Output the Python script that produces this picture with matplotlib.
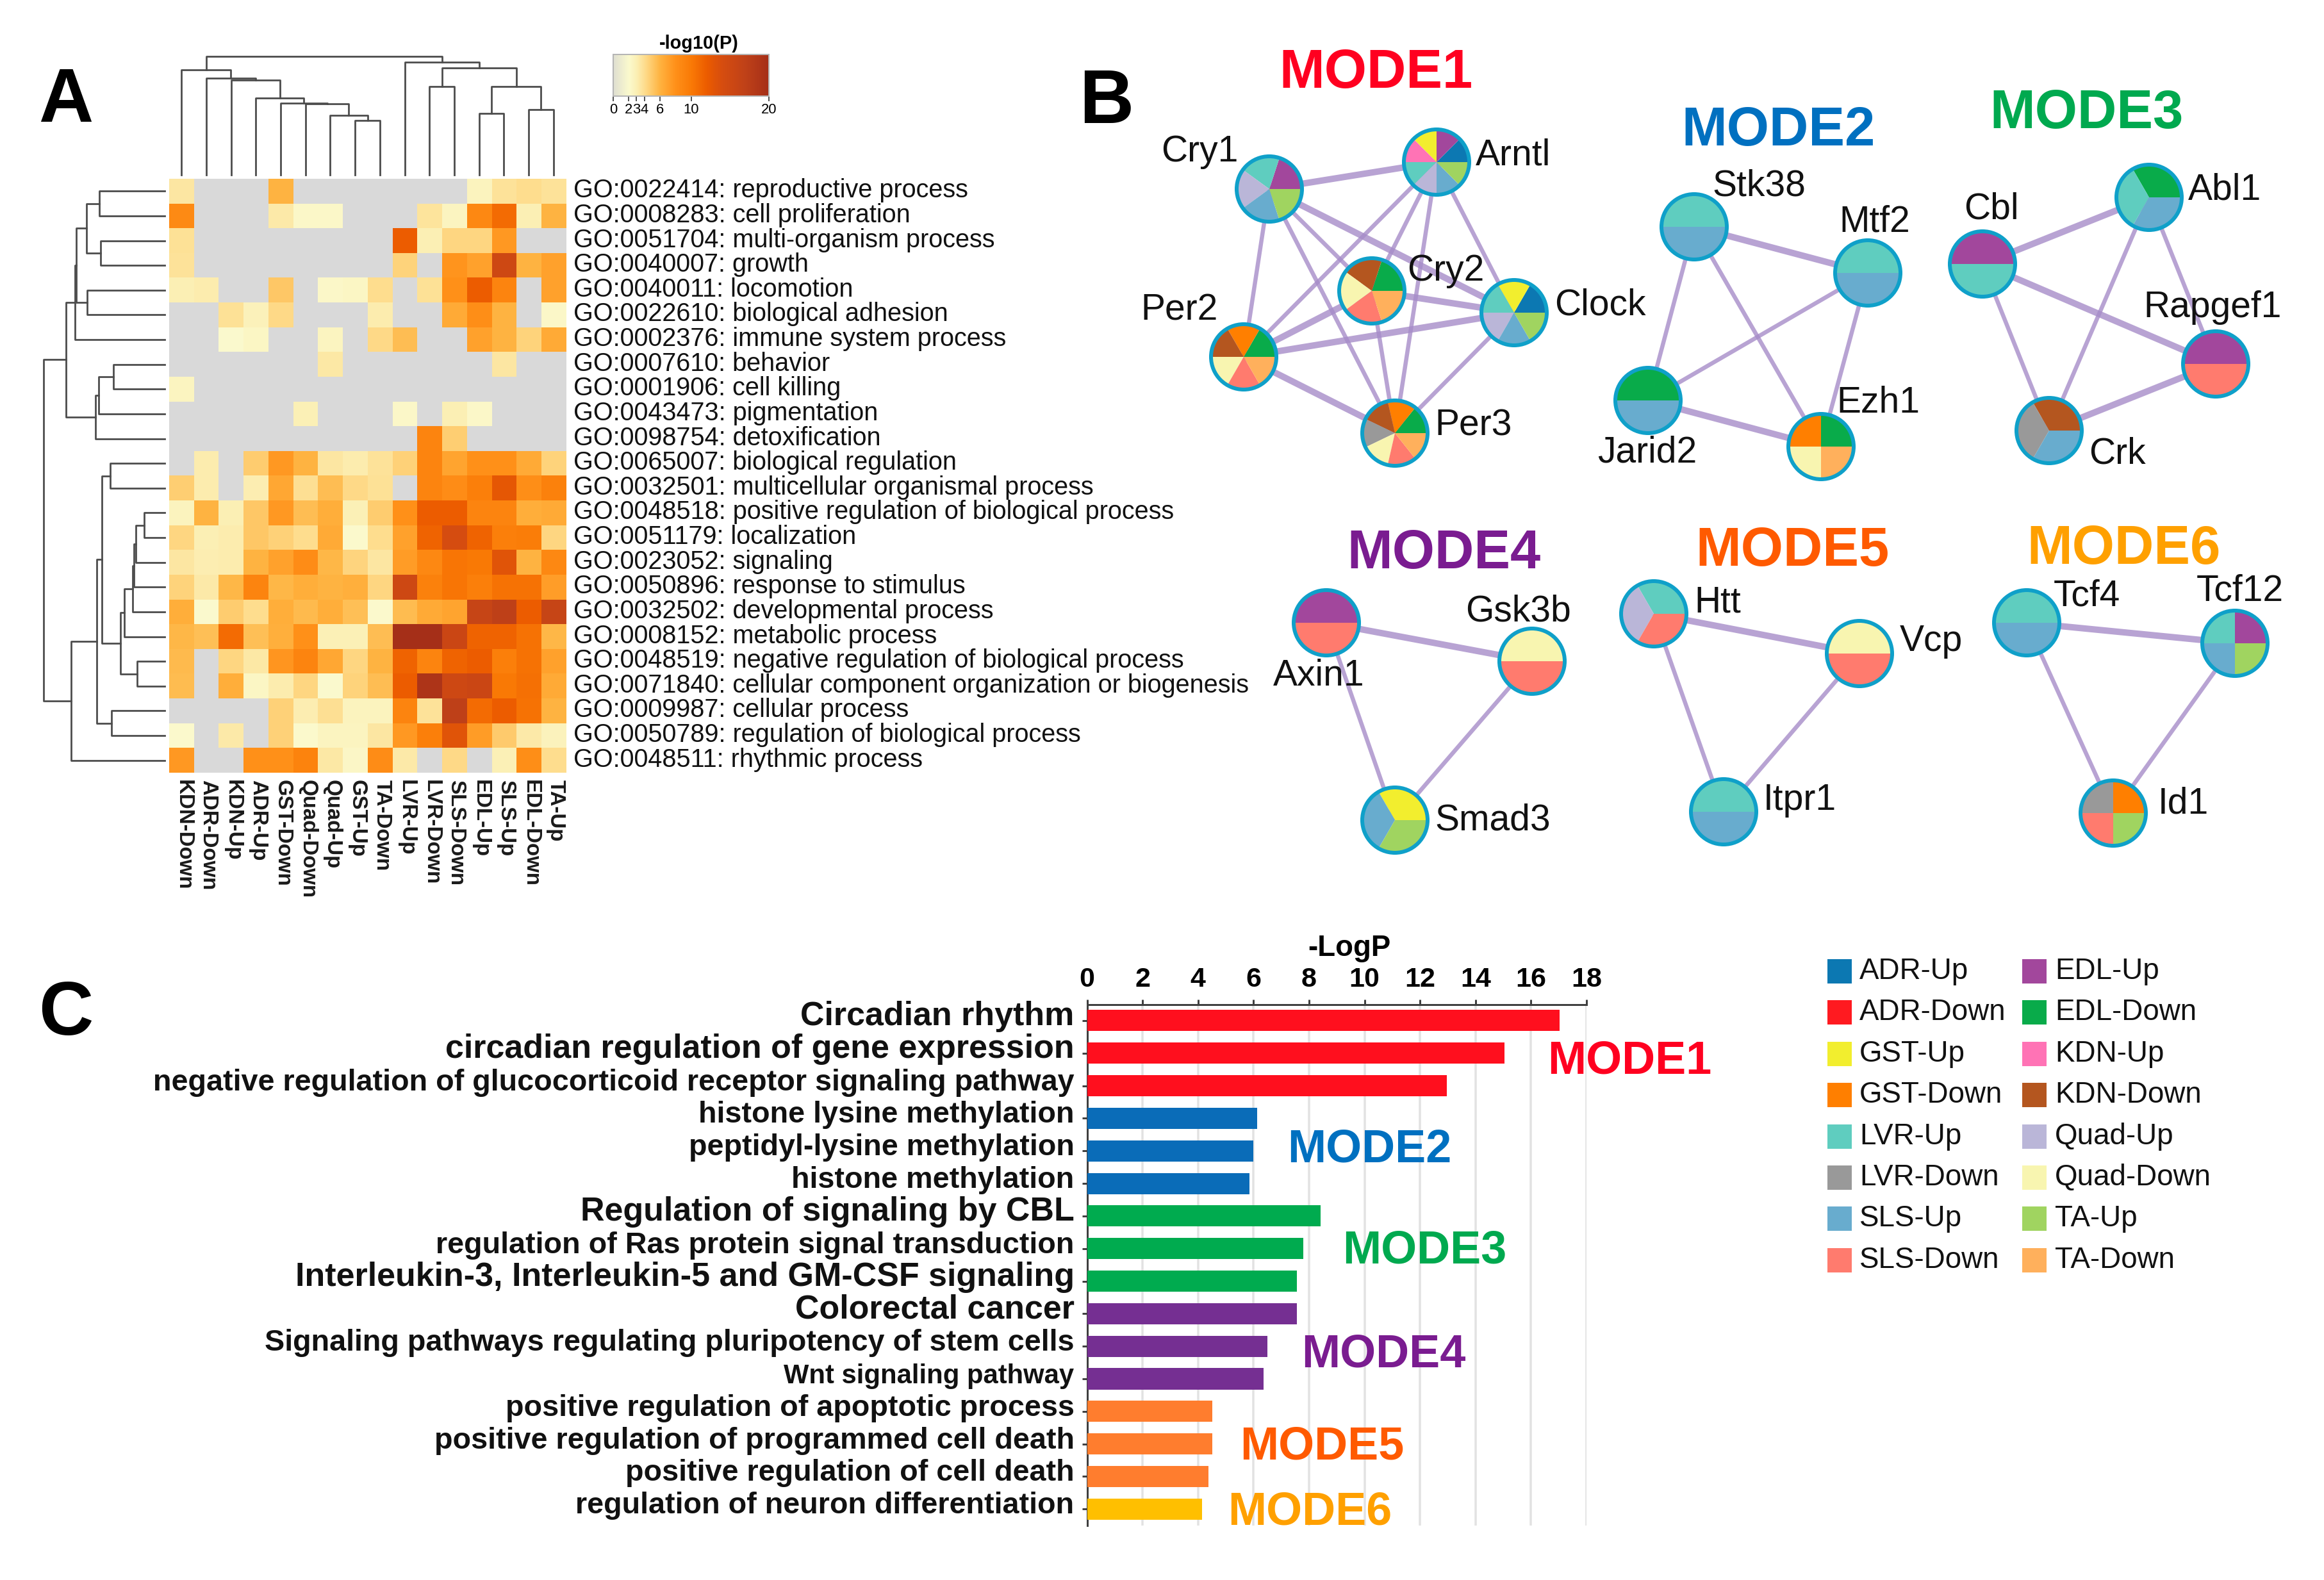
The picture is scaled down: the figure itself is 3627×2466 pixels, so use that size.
import numpy as np
import matplotlib
matplotlib.use('Agg')
import matplotlib.pyplot as plt
from matplotlib.colors import LinearSegmentedColormap
from matplotlib.patches import Circle, Rectangle

plt.rcParams['font.family'] = ['Liberation Sans', 'DejaVu Sans']

W, H = 3627, 2466
N = np.nan

# panel A
columns = ['KDN-Down', 'ADR-Down', 'KDN-Up', 'ADR-Up', 'GST-Down', 'Quad-Down', 'Quad-Up', 'GST-Up',
           'TA-Down', 'LVR-Up', 'LVR-Down', 'SLS-Down', 'EDL-Up', 'SLS-Up', 'EDL-Down', 'TA-Up']
go_terms = ['GO:0022414: reproductive process', 'GO:0008283: cell proliferation',
            'GO:0051704: multi-organism process', 'GO:0040007: growth', 'GO:0040011: locomotion',
            'GO:0022610: biological adhesion', 'GO:0002376: immune system process', 'GO:0007610: behavior',
            'GO:0001906: cell killing', 'GO:0043473: pigmentation', 'GO:0098754: detoxification',
            'GO:0065007: biological regulation', 'GO:0032501: multicellular organismal process',
            'GO:0048518: positive regulation of biological process', 'GO:0051179: localization',
            'GO:0023052: signaling', 'GO:0050896: response to stimulus', 'GO:0032502: developmental process',
            'GO:0008152: metabolic process', 'GO:0048519: negative regulation of biological process',
            'GO:0071840: cellular component organization or biogenesis', 'GO:0009987: cellular process',
            'GO:0050789: regulation of biological process', 'GO:0048511: rhythmic process']
heat = [
    [3.5, N, N, N, 6, N, N, N, N, N, N, N, 2.6, 3.7, 4, 3.7],
    [8.5, N, N, N, 3.3, 2.2, 2.2, N, N, N, 3.6, 2.5, 8.7, 11, 3, 6],
    [3.8, N, N, N, N, N, N, N, N, 12, 3, 4.3, 4.3, 7.5, N, N],
    [3.7, N, N, N, N, N, N, N, N, 4.5, N, 7.8, 7, 15, 6, 7],
    [3, 3.2, N, N, 5, N, 2.2, 2.4, 4, N, 3.8, 8, 12, 9, N, 7],
    [N, N, 3.8, 2.8, 4.2, N, N, N, 3.2, N, N, 6.5, 8.2, 6, N, 2.2],
    [N, N, 2, 2.4, N, N, 2.5, N, 4.2, 5.5, N, N, 7, 6, 4.5, 6.5],
    [N, N, N, N, N, N, 3.4, N, N, N, N, N, N, 3.5, N, N],
    [2.5, N, N, N, N, N, N, N, N, N, N, N, N, N, N, N],
    [N, N, N, N, N, 2.9, N, N, N, 2.2, N, 3, 2.2, N, N, N],
    [N, N, N, N, N, N, N, N, N, N, 9, 4.7, N, N, N, N],
    [N, 3.2, N, 4.8, 7.5, 6, 3.5, 3.2, 3.7, 4.6, 9, 6.8, 8, 8, 6.5, 4.5],
    [4.7, 3.2, N, 3.1, 6.7, 3.9, 5.5, 4.2, 3.8, N, 9, 8.3, 9.5, 12.5, 8.2, 9.3],
    [2.6, 6, 3, 5, 7.5, 5.5, 6.3, 2.9, 4.8, 8, 12, 12, 9, 9, 6.3, 6.5],
    [4.3, 3, 3.2, 5, 4.6, 4, 6.5, 2.1, 4, 7, 11.5, 14, 11.5, 9.5, 9.7, 4.3],
    [3.5, 3.1, 3.2, 6, 7, 8.3, 5.8, 4.4, 3.5, 7.3, 8.7, 10.3, 10, 13, 6, 8.7],
    [4.5, 3.3, 5.8, 9, 5.8, 6.3, 6, 6.2, 4.3, 15, 9.3, 10.3, 9.5, 10.5, 10.5, 7.2],
    [6.3, 2, 4.8, 4, 6.3, 5.7, 6.3, 5.4, 2.1, 5.6, 6.5, 6.8, 16, 17, 12, 16],
    [5.8, 5.4, 11, 5.4, 6.2, 8, 2.9, 2.9, 5.5, 20, 20, 15.5, 11.5, 11.5, 10.5, 5.8],
    [5.7, N, 4.3, 3.4, 7.7, 9, 6.7, 4.3, 6, 11.5, 9, 11.5, 12, 9.5, 10.5, 7],
    [5.6, N, 6.3, 2.4, 3.2, 4.3, 2, 4.5, 5.5, 12, 19, 15, 15.5, 10, 10.7, 6.5],
    [N, N, N, N, 4.6, 3.1, 3.9, 2.6, 2.6, 9, 3.7, 17, 11, 12, 10.5, 6],
    [2.1, N, 3.3, N, 4.6, 2.1, 2.5, 2.5, 3.5, 7.5, 9.5, 13, 7.3, 4.9, 3.3, 2.7],
    [7.5, N, N, 8, 8, 9.2, 3.4, 2.3, 8.3, 3.3, N, 4.2, N, 2.9, 8.2, 4],
]
cbar_ticks = [0, 2, 3, 4, 6, 10, 20]

# dendrograms: child a, child b, height in pixels away from the heatmap
top_merges = [(7, 8, 85), (6, 16, 93), (5, 17, 111), (4, 18, 112), (3, 19, 120), (2, 20, 148), (1, 21, 151),
              (0, 22, 164), (10, 11, 138), (12, 13, 96), (14, 15, 102), (25, 26, 138), (24, 27, 167),
              (9, 28, 176), (23, 29, 185)]
left_merges = [(0, 1, 102), (2, 3, 100), (24, 25, 122), (4, 5, 121), (26, 27, 138), (28, 6, 140), (7, 8, 80),
               (30, 9, 103), (31, 10, 108), (29, 32, 154), (11, 12, 85), (13, 14, 32), (35, 15, 45),
               (36, 16, 48), (37, 17, 50), (38, 18, 63), (19, 20, 43), (39, 40, 69), (34, 41, 98),
               (21, 22, 83), (42, 43, 106), (44, 23, 146), (33, 45, 189)]

# panel B
group_colors = {'ADR-Up': '#0c78b2', 'ADR-Down': '#ff1a20', 'GST-Up': '#f2ee2e', 'GST-Down': '#ff7f00',
                'LVR-Up': '#5fcdbf', 'LVR-Down': '#999999', 'SLS-Up': '#68acce', 'SLS-Down': '#ff7b6e',
                'EDL-Up': '#a2479c', 'EDL-Down': '#09ab4a', 'KDN-Up': '#ff73b5', 'KDN-Down': '#b4561f',
                'Quad-Up': '#bab6d8', 'Quad-Down': '#f8f5b0', 'TA-Up': '#a0d460', 'TA-Down': '#ffb05c'}
node_xy = {'Cry1': (1981, 295), 'Arntl': (2242, 253), 'Cry2': (2141, 454), 'Clock': (2363, 488),
           'Per2': (1941, 557), 'Per3': (2177, 676), 'Stk38': (2644, 354), 'Mtf2': (2915, 426),
           'Jarid2': (2572, 625), 'Ezh1': (2842, 697), 'Cbl': (3094, 412), 'Abl1': (3354, 308),
           'Rapgef1': (3458, 568), 'Crk': (3198, 672), 'Axin1': (2070, 972), 'Gsk3b': (2391, 1032),
           'Smad3': (2177, 1280), 'Htt': (2581, 958), 'Vcp': (2902, 1020), 'Itpr1': (2690, 1267),
           'Tcf4': (3163, 972), 'Tcf12': (3488, 1004), 'Id1': (3298, 1269)}
node_groups = {
    'Cry1': ['EDL-Up', 'LVR-Up', 'Quad-Up', 'SLS-Up', 'TA-Up'],
    'Arntl': ['ADR-Up', 'EDL-Up', 'GST-Up', 'KDN-Up', 'LVR-Up', 'Quad-Up', 'SLS-Up', 'TA-Up'],
    'Cry2': ['EDL-Down', 'KDN-Down', 'Quad-Down', 'SLS-Down', 'TA-Down'],
    'Clock': ['ADR-Up', 'GST-Up', 'LVR-Up', 'Quad-Up', 'SLS-Up', 'TA-Up'],
    'Per2': ['EDL-Down', 'GST-Down', 'KDN-Down', 'Quad-Down', 'SLS-Down', 'TA-Down'],
    'Per3': ['EDL-Down', 'GST-Down', 'KDN-Down', 'LVR-Down', 'Quad-Down', 'SLS-Down', 'TA-Down'],
    'Stk38': ['LVR-Up', 'SLS-Up'], 'Mtf2': ['LVR-Up', 'SLS-Up'], 'Jarid2': ['EDL-Down', 'SLS-Up'],
    'Ezh1': ['EDL-Down', 'GST-Down', 'Quad-Down', 'TA-Down'],
    'Cbl': ['EDL-Up', 'LVR-Up'], 'Abl1': ['EDL-Down', 'LVR-Up', 'SLS-Up'], 'Rapgef1': ['EDL-Up', 'SLS-Down'],
    'Crk': ['KDN-Down', 'LVR-Down', 'SLS-Up'],
    'Axin1': ['EDL-Up', 'SLS-Down'], 'Gsk3b': ['Quad-Down', 'SLS-Down'], 'Smad3': ['GST-Up', 'SLS-Up', 'TA-Up'],
    'Htt': ['LVR-Up', 'Quad-Up', 'SLS-Down'], 'Vcp': ['Quad-Down', 'SLS-Down'], 'Itpr1': ['LVR-Up', 'SLS-Up'],
    'Tcf4': ['LVR-Up', 'SLS-Up'], 'Tcf12': ['EDL-Up', 'LVR-Up', 'SLS-Up', 'TA-Up'],
    'Id1': ['GST-Down', 'LVR-Down', 'SLS-Down', 'TA-Up'],
}
thick_edges = [('Cry1', 'Arntl'), ('Cry1', 'Clock'), ('Cry2', 'Clock'), ('Cry2', 'Per2'), ('Clock', 'Per2'),
               ('Per2', 'Per3'), ('Stk38', 'Mtf2'), ('Jarid2', 'Ezh1'), ('Cbl', 'Abl1'), ('Cbl', 'Rapgef1'),
               ('Rapgef1', 'Crk'), ('Axin1', 'Gsk3b'), ('Htt', 'Vcp'), ('Tcf4', 'Tcf12')]
thin_edges = [('Cry1', 'Per2'), ('Cry1', 'Cry2'), ('Cry1', 'Per3'), ('Arntl', 'Per2'), ('Arntl', 'Cry2'),
              ('Arntl', 'Per3'), ('Arntl', 'Clock'), ('Cry2', 'Per3'), ('Clock', 'Per3'), ('Stk38', 'Jarid2'),
              ('Stk38', 'Ezh1'), ('Mtf2', 'Jarid2'), ('Mtf2', 'Ezh1'), ('Cbl', 'Crk'), ('Abl1', 'Crk'),
              ('Abl1', 'Rapgef1'), ('Axin1', 'Smad3'), ('Gsk3b', 'Smad3'), ('Htt', 'Itpr1'), ('Vcp', 'Itpr1'),
              ('Tcf4', 'Id1'), ('Tcf12', 'Id1')]
# left edge and baseline of each gene name
node_label_xy = {'Cry1': (1812, 252), 'Arntl': (2303, 257), 'Cry2': (2196, 438), 'Clock': (2426, 492),
                 'Per2': (1780, 500), 'Per3': (2239, 680), 'Stk38': (2672, 305), 'Mtf2': (2870, 362),
                 'Jarid2': (2493, 721), 'Ezh1': (2866, 644), 'Cbl': (3065, 341), 'Abl1': (3415, 312),
                 'Rapgef1': (3345, 495), 'Crk': (3260, 724), 'Axin1': (1987, 1070), 'Gsk3b': (2287, 970),
                 'Smad3': (2239, 1296), 'Htt': (2644, 956), 'Vcp': (2965, 1016), 'Itpr1': (2752, 1264),
                 'Tcf4': (3205, 945), 'Tcf12': (3428, 938), 'Id1': (3368, 1269)}
modes = ['MODE1', 'MODE2', 'MODE3', 'MODE4', 'MODE5', 'MODE6']
mode_colors = ['#ff0020', '#0070c0', '#00a94f', '#7a1c90', '#ff5a00', '#ffa000']
mode_title_xy = [(2147, 137), (2775, 227), (3257, 200), (2253, 887), (2797, 883), (3315, 880)]
mode_bar_label_xy = [(2415, 1676), (2009, 1813), (2095, 1972), (2031, 2133), (1935, 2277), (1916, 2379)]

# panel C
terms = ['Circadian rhythm', 'circadian regulation of gene expression',
         'negative regulation of glucocorticoid receptor signaling pathway', 'histone lysine methylation',
         'peptidyl-lysine methylation', 'histone methylation', 'Regulation of signaling by CBL',
         'regulation of Ras protein signal transduction', 'Interleukin-3, Interleukin-5 and GM-CSF signaling',
         'Colorectal cancer', 'Signaling pathways regulating pluripotency of stem cells', 'Wnt signaling pathway',
         'positive regulation of apoptotic process', 'positive regulation of programmed cell death',
         'positive regulation of cell death', 'regulation of neuron differentiation']
logp = [17.02, 15.04, 12.97, 6.14, 5.99, 5.85, 8.42, 7.79, 7.57, 7.57, 6.51, 6.36, 4.51, 4.51, 4.37, 4.15]
term_px = [52, 52, 46.8, 46.8, 46.8, 46.8, 52, 46.8, 52, 52, 46.8, 41.8, 46.8, 46.8, 46.8, 46.8]
bar_colors = ['#ff0f1e'] * 3 + ['#0a6cb8'] * 3 + ['#00ab4f'] * 3 + ['#752f92'] * 3 + ['#ff7d2e'] * 3 + ['#ffbf00']
legend_left = ['ADR-Up', 'ADR-Down', 'GST-Up', 'GST-Down', 'LVR-Up', 'LVR-Down', 'SLS-Up', 'SLS-Down']
legend_right = ['EDL-Up', 'EDL-Down', 'KDN-Up', 'KDN-Down', 'Quad-Up', 'Quad-Down', 'TA-Up', 'TA-Down']


def px_axes(fig, left, top, right, bottom):
    return fig.add_axes([left / W, 1 - bottom / H, (right - left) / W, (bottom - top) / H])


def pt(px):
    # figure is 100 dpi, so this turns pixels into points
    return px * 0.72


def dendro_lines(merges, n_leaves):
    '''
    Walk the merges and return one (pos_a, h_a, pos_b, h_b, h) tuple per join.
    '''
    pos = {i: float(i) for i in range(n_leaves)}
    height = {i: 0.0 for i in range(n_leaves)}
    out = []
    for k, (a, b, h) in enumerate(merges):
        out.append((pos[a], height[a], pos[b], height[b], h))
        pos[n_leaves + k] = (pos[a] + pos[b]) / 2
        height[n_leaves + k] = h
    return out


fig = plt.figure(figsize=(W / 100, H / 100), dpi=100, facecolor='white')

# heatmap
cmap = LinearSegmentedColormap.from_list('metascape', [
    (0.0, '#dfdfd2'), (0.1, '#fbfacd'), (0.15, '#fcefb4'), (0.2, '#fedd8e'), (0.3, '#ffb340'),
    (0.4, '#ff9019'), (0.5, '#fa7a06'), (0.6, '#ec5c00'), (0.7, '#d64d10'), (0.85, '#bf4119'), (1.0, '#a52f18')])
cmap.set_bad('#d9d9d9')
ax = px_axes(fig, 264, 279, 883, 1206)
ax.imshow(np.ma.masked_invalid(np.array(heat)), cmap=cmap, vmin=0, vmax=20, aspect='auto', interpolation='nearest')
ax.axis('off')

# everything else in panel A and B lives on a pixel sized overlay
ov = fig.add_axes([0, 0, 1, 1])
ov.patch.set_visible(False)
ov.set_zorder(5)

row_h = (1206 - 279) / len(go_terms)
col_w = (883 - 264) / len(columns)
for i, term in enumerate(go_terms):
    ov.text(895, 279 + row_h * (i + 0.5) + 10, term, fontsize=pt(39.6), ha='left', va='baseline', color='#111111')
for i, name in enumerate(columns):
    ov.text(264 + col_w * (i + 0.5) + 3, 1217, name, fontsize=pt(33), fontweight='bold', rotation=270,
            ha='center', va='top', color='#1a1a1a')

dendro_color = '#4d4d4d'
for p_a, h_a, p_b, h_b, h in dendro_lines(top_merges, len(columns)):
    xa, xb = 264 + col_w * (p_a + 0.5), 264 + col_w * (p_b + 0.5)
    ov.plot([xa, xa, xb, xb], [273 - h_a, 273 - h, 273 - h, 273 - h_b], color=dendro_color, lw=pt(2.8))
for p_a, h_a, p_b, h_b, h in dendro_lines(left_merges, len(go_terms)):
    ya, yb = 279 + row_h * (p_a + 0.5), 279 + row_h * (p_b + 0.5)
    ov.plot([257 - h_a, 257 - h, 257 - h, 257 - h_b], [ya, ya, yb, yb], color=dendro_color, lw=pt(2.8))

# color key
cax = px_axes(fig, 957, 85, 1200, 150)
cax.imshow(np.linspace(0, 20, 256)[None, :], cmap=cmap, vmin=0, vmax=20, aspect='auto', extent=[0, 20, 0, 1])
cax.set_yticks([])
cax.set_xticks(cbar_ticks)
cax.tick_params(axis='x', labelsize=pt(22), length=pt(8), width=pt(2), pad=pt(3), color='#555555')
for s in cax.spines.values():
    s.set_color('#b5b5b5')
    s.set_linewidth(pt(2))
ov.text(1091, 76, '-log10(P)', fontsize=pt(29), fontweight='bold', ha='center', va='baseline')

# networks
for edges, width in [(thick_edges, 10), (thin_edges, 6.5)]:
    for a, b in edges:
        ov.plot([node_xy[a][0], node_xy[b][0]], [node_xy[a][1], node_xy[b][1]], color='#a68cc8', alpha=0.8,
                lw=pt(width), solid_capstyle='butt', zorder=2)
for name, (x, y) in node_xy.items():
    groups = node_groups[name]
    # y axis of the overlay runs downwards, so clockwise here reads anticlockwise on the page
    ov.pie(np.ones(len(groups)), colors=[group_colors[g] for g in groups], center=(x, y), radius=51,
           startangle=0, counterclock=False, frame=True, wedgeprops={'linewidth': 0, 'zorder': 3})
    ov.add_patch(Circle((x, y), 51, facecolor='none', edgecolor='#0fa0c9', lw=pt(6), zorder=4))
    lx, ly = node_label_xy[name]
    ov.text(lx, ly, name, fontsize=pt(57), ha='left', va='baseline', color='#111111', zorder=5)
for name, xy, color in zip(modes, mode_title_xy, mode_colors):
    ov.text(xy[0], xy[1], name, fontsize=pt(85), fontweight='bold', color=color, ha='center', va='baseline')

# panel letters
for letter, x, y in [('A', 60, 190), ('B', 1684, 192), ('C', 60, 1615)]:
    ov.text(x, y, letter, fontsize=pt(118), fontweight='bold', ha='left', va='baseline')

# legend
for names, box_x, text_x in [(legend_left, 2852, 2902), (legend_right, 3156, 3207)]:
    for i, name in enumerate(names):
        ov.add_patch(Rectangle((box_x, 1497 + 64.4 * i), 38, 38, facecolor=group_colors[name], edgecolor='none'))
        ov.text(text_x, 1528 + 64.4 * i, name, fontsize=pt(45.8), ha='left', va='baseline', color='#111111')

for name, xy, color in zip(modes, mode_bar_label_xy, mode_colors):
    ov.text(xy[0], xy[1], name, fontsize=pt(72), fontweight='bold', color=color, ha='left', va='baseline', zorder=6)

ov.set_xlim(0, W)
ov.set_ylim(H, 0)
ov.set_aspect('auto')
ov.axis('off')

# bars
bx = px_axes(fig, 1696.6, 1567.5, 2476, 2380.7)
ypos = np.arange(len(terms))
bx.barh(ypos, logp, height=0.65, color=bar_colors, zorder=3)
bx.set_xlim(0, 18)
bx.set_ylim(len(terms) - 0.5, -0.5)
bx.set_xticks(np.arange(0, 19, 2))
bx.set_yticks(ypos, labels=[])
bx.xaxis.tick_top()
bx.grid(axis='x', color='#e2e2e2', lw=pt(3.5), zorder=0)
bx.set_axisbelow(True)
bx.tick_params(axis='x', labelsize=pt(43), pad=pt(10), length=pt(8), width=pt(3), color='#404040')
bx.tick_params(axis='y', length=pt(8), width=pt(3), color='#404040')
for label in bx.get_xticklabels():
    label.set_fontweight('bold')
for side in ['right', 'bottom']:
    bx.spines[side].set_visible(False)
for side in ['top', 'left']:
    bx.spines[side].set_color('#404040')
    bx.spines[side].set_linewidth(pt(3))
bx.patch.set_visible(False)
for y, term, size in zip(ypos, terms, term_px):
    bx.annotate(term, xy=(0, y), xycoords='data', xytext=(pt(-20), pt(-7)), textcoords='offset points',
                fontsize=pt(size), fontweight='bold', ha='right', va='baseline', color='#111111',
                annotation_clip=False)
bx.text(0.525, 1.08, '-LogP', transform=bx.transAxes, fontsize=pt(45.6), fontweight='bold', ha='center', va='bottom')

fig.savefig('out.png', dpi=100)
